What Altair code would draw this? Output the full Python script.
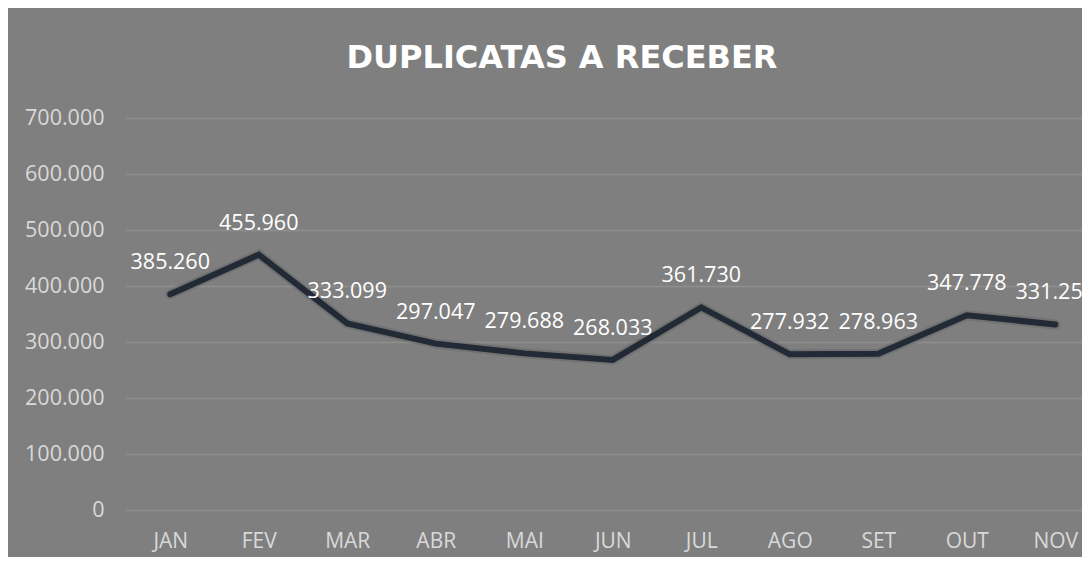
import altair as alt
import pandas as pd

months = ["JAN", "FEV", "MAR", "ABR", "MAI", "JUN", "JUL", "AGO", "SET", "OUT", "NOV"]
values = [385260, 455960, 333099, 297047, 279688, 268033, 361730, 277932, 278963, 347778, 331257]
y_ticks = [0, 100000, 200000, 300000, 400000, 500000, 600000, 700000]
title_text = "DUPLICATAS A RECEBER"

df = pd.DataFrame({"idx": list(range(len(months))), "mes": months, "valor": values})

label_expr = "[" + ",".join(f"'{m}'" for m in months) + "][datum.value]"

FONT = "Open Sans"
BG = "#7f7f7f"

x = alt.X(
    "idx:Q",
    scale=alt.Scale(domain=[-0.5, 10.302], nice=False, zero=False),
    axis=alt.Axis(
        values=list(range(len(months))), labelExpr=label_expr, grid=False, ticks=False,
        domain=False, labelPadding=20, labelFontSize=21, labelColor="#d9d9d9",
        labelFont=FONT, title=None, labelFlush=False,
    ),
)
y = alt.Y(
    "valor:Q",
    scale=alt.Scale(domain=[0, 700000], nice=False),
    axis=alt.Axis(
        values=y_ticks, format=",.0f", grid=True, gridColor="#8e8e8e", gridWidth=1.5,
        ticks=False, domain=False, labelPadding=22, labelFontSize=21.5,
        labelColor="#d9d9d9", labelFont=FONT, title=None,
    ),
)

base = alt.Chart(df).encode(x=x, y=y)
shadow = base.mark_line(color="#5a5a5a", strokeWidth=10, strokeCap="round", opacity=0.35)
line = base.mark_line(color="#222a35", strokeWidth=6, strokeCap="round", strokeJoin="miter")
text = base.mark_text(dy=-31, fontSize=21.5, color="white", font=FONT).encode(
    text=alt.Text("valor:Q", format=",.0f")
)

chart = (
    (shadow + line + text)
    .properties(
        width=956,
        height=392,
        title=alt.TitleParams(
            title_text, font="DejaVu Sans", fontSize=32, fontWeight="bold", color="white",
            anchor="middle", frame="group", dx=-42, offset=32,
        ),
        padding={"left": 118, "top": 110, "right": 0, "bottom": 47},
        autosize=alt.AutoSizeParams(type="none"),
        background=BG,
    )
    .configure(locale=alt.Locale(number=alt.NumberLocale(
        decimal=",", thousands=".", grouping=[3], currency=["R$", ""])))
    .configure_view(stroke=None)
)

chart.save("out.html", embed_options={"renderer": "svg", "actions": False})
